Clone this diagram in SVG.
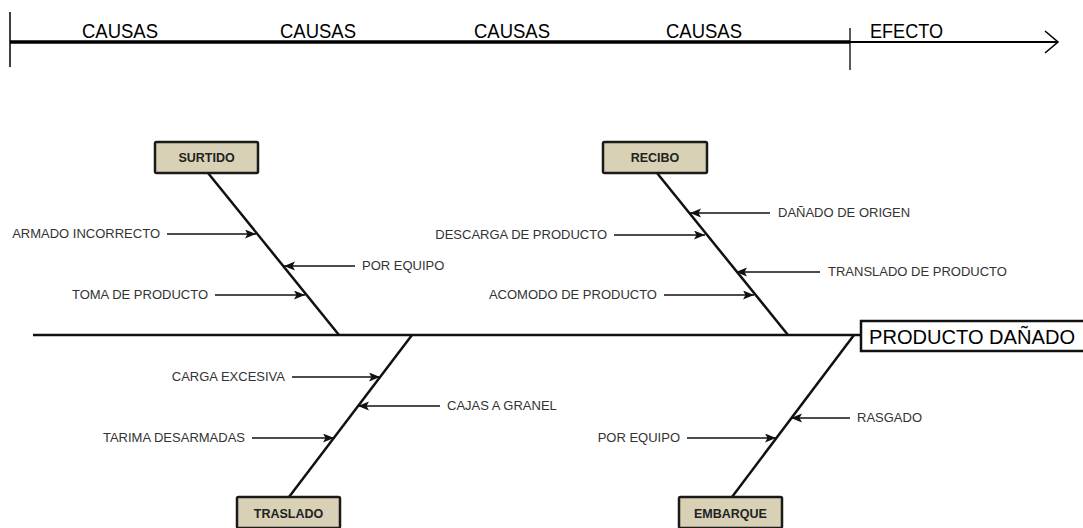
<svg xmlns="http://www.w3.org/2000/svg" width="1083" height="528" viewBox="0 0 1083 528">
<style>
.hdr{font-family:"Liberation Sans",Arial,sans-serif;font-size:21px;fill:#000}
.lbl{font-family:"Liberation Sans",Arial,sans-serif;font-size:13px;fill:#333}
.cat{font-family:"Liberation Sans",Arial,sans-serif;font-size:12.5px;font-weight:bold;fill:#222}
.box{fill:#d8d1b5;stroke:#1a1a1a;stroke-width:2.5}
.bone{stroke:#111;stroke-width:2.5;fill:none}
.arr{stroke:#111;stroke-width:1.5;fill:none;marker-end:url(#ah)}
</style>
<defs>
<marker id="ah" markerUnits="userSpaceOnUse" markerWidth="12" markerHeight="10" refX="11" refY="4.5" orient="auto">
<path d="M0,0 L11,4.5 L0,9 L2.5,4.5 z" fill="#111"/>
</marker>
</defs>
<rect width="1083" height="528" fill="#fff"/>
<g id="timeline">
<line x1="10" y1="12" x2="10" y2="67" stroke="#000" stroke-width="1.5"/>
<line x1="10" y1="42" x2="850" y2="42" stroke="#000" stroke-width="3.5"/>
<line x1="850" y1="42" x2="1057" y2="42" stroke="#000" stroke-width="1.8"/>
<line x1="850" y1="28" x2="850" y2="70" stroke="#000" stroke-width="1.3"/>
<polyline points="1045,31 1058,42 1045,53" fill="none" stroke="#000" stroke-width="1.6"/>
<text class="hdr" x="82" y="38" textLength="76" lengthAdjust="spacingAndGlyphs">CAUSAS</text>
<text class="hdr" x="280" y="38" textLength="76" lengthAdjust="spacingAndGlyphs">CAUSAS</text>
<text class="hdr" x="474" y="38" textLength="76" lengthAdjust="spacingAndGlyphs">CAUSAS</text>
<text class="hdr" x="666" y="38" textLength="76" lengthAdjust="spacingAndGlyphs">CAUSAS</text>
<text class="hdr" x="870" y="38" textLength="73" lengthAdjust="spacingAndGlyphs">EFECTO</text>
</g>
<g id="connectors">
<line class="bone" x1="33" y1="335" x2="860" y2="335"/>
<line class="bone" x1="208" y1="173" x2="339" y2="335"/>
<line class="bone" x1="657" y1="173" x2="788" y2="335"/>
<line class="bone" x1="289" y1="497" x2="412" y2="335"/>
<line class="bone" x1="732" y1="497" x2="854" y2="335"/>
<line class="arr" x1="167" y1="234" x2="256" y2="234"/>
<line class="arr" x1="355" y1="266" x2="284" y2="266"/>
<line class="arr" x1="215" y1="295" x2="305" y2="295"/>
<line class="arr" x1="770" y1="213" x2="690" y2="213"/>
<line class="arr" x1="614" y1="235" x2="705" y2="235"/>
<line class="arr" x1="820" y1="272" x2="736" y2="272"/>
<line class="arr" x1="664" y1="295" x2="754" y2="295"/>
<line class="arr" x1="292" y1="377" x2="380" y2="377"/>
<line class="arr" x1="440" y1="406" x2="358" y2="406"/>
<line class="arr" x1="252" y1="438" x2="334" y2="438"/>
<line class="arr" x1="850" y1="418" x2="791" y2="418"/>
<line class="arr" x1="687" y1="438" x2="776" y2="438"/>
</g>
<g id="effect">
<rect x="861" y="321" width="224" height="30" fill="#fff" stroke="#111" stroke-width="2.5"/>
<text class="hdr" x="869" y="344" textLength="206" lengthAdjust="spacingAndGlyphs">PRODUCTO DAÑADO</text>
</g>
<g id="surtido">
<rect class="box" x="155" y="142" width="103" height="31" rx="1.5"/>
<text class="cat" x="206.5" y="162" text-anchor="middle">SURTIDO</text>
<text class="lbl" x="160" y="238" text-anchor="end">ARMADO INCORRECTO</text>
<text class="lbl" x="362" y="270">POR EQUIPO</text>
<text class="lbl" x="208" y="299" text-anchor="end">TOMA DE PRODUCTO</text>
</g>
<g id="recibo">
<rect class="box" x="603" y="142" width="104" height="31" rx="1.5"/>
<text class="cat" x="655" y="162" text-anchor="middle">RECIBO</text>
<text class="lbl" x="778" y="217">DAÑADO DE ORIGEN</text>
<text class="lbl" x="607" y="239" text-anchor="end">DESCARGA DE PRODUCTO</text>
<text class="lbl" x="828" y="276">TRANSLADO DE PRODUCTO</text>
<text class="lbl" x="657" y="299" text-anchor="end">ACOMODO DE PRODUCTO</text>
</g>
<g id="traslado">
<rect class="box" x="237" y="497" width="103" height="31" rx="1.5"/>
<text class="cat" x="288.5" y="518" text-anchor="middle">TRASLADO</text>
<text class="lbl" x="285" y="381" text-anchor="end">CARGA EXCESIVA</text>
<text class="lbl" x="447" y="410">CAJAS A GRANEL</text>
<text class="lbl" x="245" y="442" text-anchor="end">TARIMA DESARMADAS</text>
</g>
<g id="embarque">
<rect class="box" x="679" y="497" width="103" height="31" rx="1.5"/>
<text class="cat" x="730.5" y="518" text-anchor="middle">EMBARQUE</text>
<text class="lbl" x="857" y="422">RASGADO</text>
<text class="lbl" x="680" y="442" text-anchor="end">POR EQUIPO</text>
</g>
</svg>
